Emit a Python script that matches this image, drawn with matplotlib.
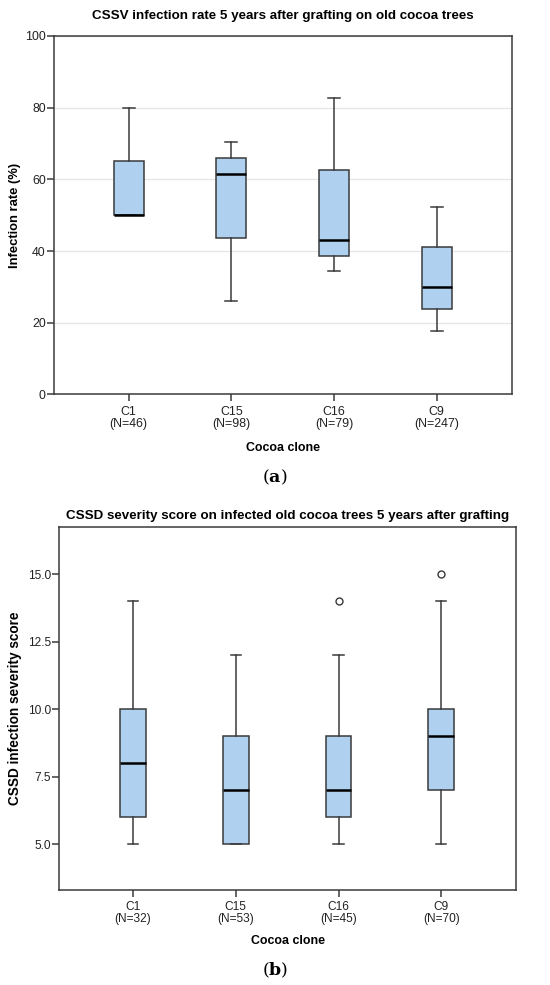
import matplotlib.pyplot as plt

plt.rcParams["font.family"] = ["Liberation Sans", "DejaVu Sans"]
plt.rcParams["mathtext.fontset"] = "dejavuserif"

clones = ["C1", "C15", "C16", "C9"]

# panel (a): CSSV infection rate (%)
rate_n = [46, 98, 79, 247]
rate_whislo = [50.0, 26.2, 34.4, 17.8]
rate_q1 = [50.0, 43.7, 38.7, 23.8]
rate_med = [50.0, 61.4, 43.0, 30.0]
rate_q3 = [65.0, 66.0, 62.7, 41.1]
rate_whishi = [80.0, 70.5, 82.6, 52.2]
rate_fliers = [[], [], [], []]

# panel (b): CSSD severity score
sev_n = [32, 53, 45, 70]
sev_whislo = [5, 5, 5, 5]
sev_q1 = [6, 5, 6, 7]
sev_med = [8, 7, 7, 9]
sev_q3 = [10, 9, 9, 10]
sev_whishi = [14, 12, 12, 14]
sev_fliers = [[], [], [14], [15]]

BOX_FILL = "#afd0ee"
EDGE = "#3a3a3a"


def make_stats(whislo, q1, med, q3, whishi, fliers):
    return [
        {"whislo": a, "q1": b, "med": c, "q3": d, "whishi": e, "fliers": f}
        for a, b, c, d, e, f in zip(whislo, q1, med, q3, whishi, fliers)
    ]


def draw_panel(ax, stats, ns, width, capw, fs):
    ax.bxp(
        stats,
        positions=range(len(stats)),
        widths=width,
        capwidths=capw,
        patch_artist=True,
        showfliers=True,
        boxprops=dict(facecolor=BOX_FILL, edgecolor=EDGE, linewidth=1.1),
        medianprops=dict(color="black", linewidth=1.8),
        whiskerprops=dict(color=EDGE, linewidth=1.1),
        capprops=dict(color=EDGE, linewidth=1.1),
        flierprops=dict(marker="o", markersize=5, markerfacecolor="white",
                        markeredgecolor=EDGE, markeredgewidth=1.0),
    )
    ax.set_xticks(range(len(stats)))
    ax.set_xticklabels([f"{c}\n(N={n})" for c, n in zip(clones, ns)], fontsize=fs, linespacing=1.0)
    ax.tick_params(axis="both", direction="out", length=5, width=1.1, color=EDGE,
                   labelsize=fs, labelcolor="#222222")
    ax.tick_params(axis="x", pad=3)
    ax.tick_params(axis="y", pad=1)
    for spine in ax.spines.values():
        spine.set_color(EDGE)
        spine.set_linewidth(1.1)


fig = plt.figure(figsize=(5.5, 9.85), dpi=100)

# (a)
ax1 = fig.add_axes([0.0982, 0.5995, 0.8327, 0.364])
ax1.yaxis.grid(True, color="#e6e6e6", linewidth=0.9)
ax1.set_axisbelow(True)
draw_panel(ax1, make_stats(rate_whislo, rate_q1, rate_med, rate_q3, rate_whishi, rate_fliers),
           rate_n, 0.29, 0.114, 8.9)
ax1.set_ylim(0, 100)
ax1.set_yticks([0, 20, 40, 60, 80, 100])
ax1.set_xlim(-0.727, 3.733)
ax1.set_ylabel("Infection rate (%)", fontsize=9.4, fontweight="bold", labelpad=3)
ax1.set_xlabel("Cocoa clone", fontsize=8.9, fontweight="bold", labelpad=9)
ax1.set_title("CSSV infection rate 5 years after grafting on old cocoa trees",
              fontsize=9.6, fontweight="bold", pad=12)
fig.text(0.5, 0.515, r"$(\mathbf{a})$", fontsize=12.5, ha="center", va="center")

# (b)
ax2 = fig.add_axes([0.1073, 0.0964, 0.831, 0.3686])
draw_panel(ax2, make_stats(sev_whislo, sev_q1, sev_med, sev_q3, sev_whishi, sev_fliers),
           sev_n, 0.25, 0.10, 8.6)
ax2.set_ylim(3.31, 16.74)
ax2.set_yticks([5.0, 7.5, 10.0, 12.5, 15.0])
ax2.set_yticklabels(["5.0", "7.5", "10.0", "12.5", "15.0"])
ax2.set_xlim(-0.72, 3.727)
ax2.set_ylabel("CSSD infection severity score", fontsize=9.8, fontweight="bold", labelpad=4)
ax2.set_xlabel("Cocoa clone", fontsize=8.9, fontweight="bold", labelpad=7)
ax2.set_title("CSSD severity score on infected old cocoa trees 5 years after grafting",
              fontsize=9.6, fontweight="bold", pad=6)
fig.text(0.5, 0.015, r"$(\mathbf{b})$", fontsize=12.5, ha="center", va="center")

fig.savefig("out.png", dpi=100)
